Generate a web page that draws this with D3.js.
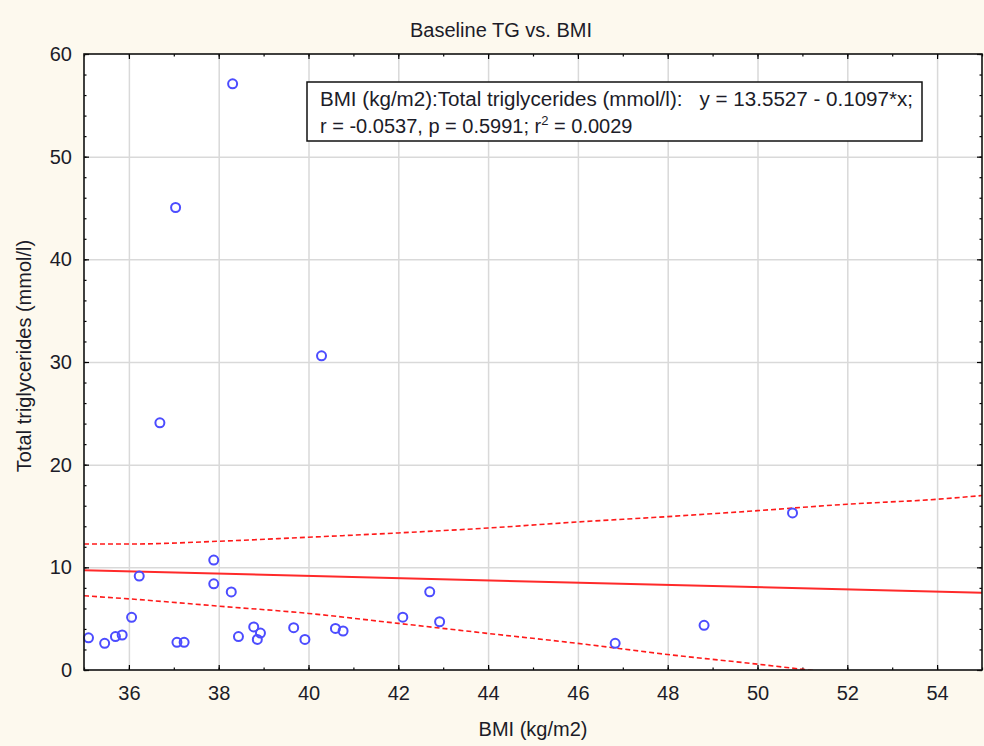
<!DOCTYPE html>
<html>
<head>
<meta charset="utf-8">
<script src="https://cdn.jsdelivr.net/npm/d3@7"></script>
<style>
  html, body { margin: 0; padding: 0; background: #fdf9ee; }
  svg { display: block; font-family: "Liberation Sans", Arial, sans-serif; }
  .grid line { stroke: #d9d9d9; stroke-width: 1.5; }
  .grid path { display: none; }
  .axis path { display: none; }
  .axis line { stroke: #000; stroke-width: 1.2; }
  .axis text { font-size: 20px; fill: #1c1c28; }
</style>
</head>
<body>
<svg id="chart" width="984" height="746"></svg>
<script>
// visible points (BMI kg/m2, total triglycerides mmol/l)
const bmi = [35.10, 35.46, 35.70, 35.85, 36.06, 36.23, 36.69, 37.04, 37.07, 37.23,
  37.89, 37.89, 38.28, 38.31, 38.44, 38.78, 38.86, 38.93, 39.67, 39.92,
  40.29, 40.60, 40.77, 42.10, 42.70, 42.92, 46.83, 48.81, 50.78]
const tg = [3.13, 2.60, 3.26, 3.41, 5.13, 9.15, 24.08, 45.05, 2.70, 2.70,
  10.71, 8.39, 7.60, 57.10, 3.26, 4.20, 2.98, 3.60, 4.12, 2.98,
  30.60, 4.05, 3.80, 5.15, 7.62, 4.70, 2.60, 4.35, 15.30]

// fitted line and 95% band
const fitBmi = [35, 55]
const fitTg = [9.71, 7.52]
const bandBmi = [35, 36, 38, 40, 42, 44, 46, 48, 50, 52, 54, 55]
const bandUpper = [12.27, 12.27, 12.54, 12.93, 13.35, 13.83, 14.42, 14.94, 15.52, 16.15, 16.63, 16.99]
const bandLower = [7.23, 6.93, 6.22, 5.51, 4.54, 3.56, 2.59, 1.51, 0.57, -0.45, -1.45, -1.95]

const xTicks = [36, 38, 40, 42, 44, 46, 48, 50, 52, 54]
const yTicks = [0, 10, 20, 30, 40, 50, 60]

const title = 'Baseline TG vs. BMI'
const xTitle = 'BMI (kg/m2)'
const yTitle = 'Total triglycerides (mmol/l)'
const noteLine1 = 'BMI (kg/m2):Total triglycerides (mmol/l):   y = 13.5527 - 0.1097*x;'
const noteLine2 = ['r = -0.0537, p = 0.5991; r', '2', ' = 0.0029']

const svg = d3.select('#chart')
const margin = { top: 54, left: 84, bottom: 76, right: 2 }
const width = +svg.attr('width') - margin.left - margin.right
const height = +svg.attr('height') - margin.top - margin.bottom

const x = d3.scaleLinear().domain([35, 55]).range([0, width])
const y = d3.scaleLinear().domain([0, 60]).range([height, 0])

svg.append('defs').append('clipPath').attr('id', 'plot-clip')
  .append('rect').attr('width', width).attr('height', height)

const g = svg.append('g').attr('transform', `translate(${margin.left},${margin.top})`)

g.append('rect').attr('width', width).attr('height', height).attr('fill', '#fff')

// grid
g.append('g').classed('grid', true)
  .attr('transform', `translate(0,${height})`)
  .call(d3.axisBottom(x).tickValues(xTicks).tickSize(-height).tickFormat(''))
g.append('g').classed('grid', true)
  .call(d3.axisLeft(y).tickValues(yTicks.slice(1, -1)).tickSize(-width).tickFormat(''))

// inward ticks on all four sides
const minorX = d3.range(35, 56, 1)
const minorY = d3.range(0, 61, 2)
g.append('g').classed('axis', true).attr('transform', `translate(0,${height})`)
  .call(d3.axisBottom(x).tickValues(minorX).tickSize(-2.5).tickFormat(''))
g.append('g').classed('axis', true).attr('transform', `translate(0,${height})`)
  .call(d3.axisBottom(x).tickValues(xTicks).tickSize(-5).tickPadding(16).tickFormat(d3.format('d')))
g.append('g').classed('axis', true)
  .call(d3.axisTop(x).tickValues(minorX).tickSize(-2.5).tickFormat(''))
g.append('g').classed('axis', true)
  .call(d3.axisTop(x).tickValues(xTicks).tickSize(-5).tickFormat(''))
g.append('g').classed('axis', true)
  .call(d3.axisLeft(y).tickValues(minorY).tickSize(-2.5).tickFormat(''))
g.append('g').classed('axis', true)
  .call(d3.axisLeft(y).tickValues(yTicks).tickSize(-5).tickPadding(12).tickFormat(d3.format('d')))
g.append('g').classed('axis', true).attr('transform', `translate(${width},0)`)
  .call(d3.axisRight(y).tickValues(minorY).tickSize(-2.5).tickFormat(''))
g.append('g').classed('axis', true).attr('transform', `translate(${width},0)`)
  .call(d3.axisRight(y).tickValues(yTicks).tickSize(-5).tickFormat(''))

// fit and band
const lines = g.append('g').attr('clip-path', 'url(#plot-clip)')
const line = d3.line().x(d => x(d[0])).y(d => y(d[1]))
lines.append('path')
  .datum(fitBmi.map((v, i) => [v, fitTg[i]]))
  .attr('d', line).attr('fill', 'none').attr('stroke', '#ff2a2a').attr('stroke-width', 2)
const band = d3.line().x(d => x(d[0])).y(d => y(d[1])).curve(d3.curveMonotoneX)
;[bandUpper, bandLower].forEach(vals => {
  lines.append('path')
    .datum(bandBmi.map((v, i) => [v, vals[i]]))
    .attr('d', band).attr('fill', 'none').attr('stroke', '#ff1a1a')
    .attr('stroke-width', 1.6).attr('stroke-dasharray', '5,3')
})

// points
g.append('g').selectAll('circle')
  .data(bmi.map((v, i) => [v, tg[i]]))
  .join('circle')
  .attr('cx', d => x(d[0])).attr('cy', d => y(d[1])).attr('r', 4.5)
  .attr('fill', 'none').attr('stroke', '#4c4cff').attr('stroke-width', 2)

// frame
g.append('rect').attr('width', width).attr('height', height)
  .attr('fill', 'none').attr('stroke', '#111').attr('stroke-width', 1.6)

// annotation box
const note = svg.append('g').attr('font-size', 20).attr('fill', '#1c1c28')
note.append('rect').attr('x', 307).attr('y', 82).attr('width', 615).attr('height', 59)
  .attr('fill', '#fff').attr('stroke', '#111').attr('stroke-width', 1.5)
note.append('text').attr('x', 320).attr('y', 106)
  .style('white-space', 'pre')
  .attr('textLength', 593).attr('lengthAdjust', 'spacingAndGlyphs')
  .text(noteLine1)
const t2 = note.append('text').attr('x', 320).attr('y', 133)
t2.append('tspan').text(noteLine2[0])
t2.append('tspan').attr('dy', -8).attr('font-size', 13).text(noteLine2[1])
t2.append('tspan').attr('dy', 8).text(noteLine2[2])

// titles
const titles = svg.append('g').attr('font-size', 20).attr('fill', '#1c1c28').attr('text-anchor', 'middle')
titles.append('text').attr('x', 501).attr('y', 37).text(title)
titles.append('text').attr('x', 533).attr('y', 736).text(xTitle)
titles.append('text').attr('transform', 'translate(31,356) rotate(-90)').text(yTitle)
</script>
</body>
</html>
